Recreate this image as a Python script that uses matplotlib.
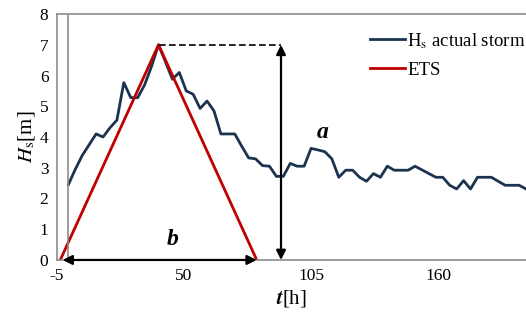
import matplotlib.pyplot as plt

plt.rcParams['font.family'] = ['Liberation Serif', 'DejaVu Serif']
plt.rcParams['mathtext.fontset'] = 'stix'
plt.rcParams['axes.unicode_minus'] = False

# actual storm, 3-hourly significant wave height
t_storm = list(range(0, 201, 3))[:67]
hs_storm = [2.45, 2.95, 3.4, 3.75, 4.1, 4.0, 4.3, 4.55, 5.77, 5.28,
            5.28, 5.7, 6.3, 7.0, 6.45, 5.88, 6.1, 5.5, 5.39, 4.93,
            5.17, 4.85, 4.1, 4.1, 4.1, 3.7, 3.32, 3.29, 3.07, 3.05,
            2.72, 2.72, 3.14, 3.05, 3.05, 3.63, 3.58, 3.52, 3.29, 2.69,
            2.92, 2.92, 2.69, 2.56, 2.81, 2.69, 3.05, 2.92, 2.92, 2.92,
            3.05, 2.93, 2.81, 2.69, 2.69, 2.43, 2.31, 2.58, 2.31, 2.69,
            2.69, 2.69, 2.56, 2.43, 2.43, 2.43, 2.31]

# equivalent triangular storm
t_ets = [-3.5, 39, 81.5]
hs_ets = [0, 7, 0]

a_t = 92  # position of the "a" arrow
xticks = [-5, 50, 105, 160]

fig = plt.figure(figsize=(5.26, 3.27), dpi=100)
ax = fig.add_axes([0.108, 0.205, 0.892, 0.752])

ax.plot(t_storm, hs_storm, color='#1c3350', lw=2, label='H$_\\mathrm{s}$ actual storm')
ax.plot(t_ets, hs_ets, color='#c00000', lw=2, label='ETS')

ax.axvline(0, color='#8c8c8c', lw=1.2)
ax.plot([t_ets[1], a_t], [7, 7], color='black', lw=1.2, ls=(0, (4, 2)))

arrow = dict(arrowstyle='<|-|>', color='black', lw=1.6, mutation_scale=14,
             shrinkA=0, shrinkB=0)
ax.annotate('', xy=(a_t, 7), xytext=(a_t, 0), arrowprops=arrow)
ax.annotate('', xy=(-2.5, 0), xytext=(t_ets[2], 0), arrowprops=arrow)

ax.text(110, 4.15, 'a', fontsize=17, fontweight='bold', style='italic',
        ha='center', va='center')
ax.text(45, 0.65, 'b', fontsize=17, fontweight='bold', style='italic',
        ha='center', va='center')

ax.set_xlim(-5, 198)
ax.set_ylim(0, 8)
ax.set_xticks(xticks)
ax.set_yticks(range(9))
ax.tick_params(length=0, labelsize=12.5, pad=6)

for s in ['left', 'top', 'bottom']:
    ax.spines[s].set_color('#8c8c8c')
    ax.spines[s].set_linewidth(1.2)
ax.spines['right'].set_visible(False)

ax.set_xlabel('$\\boldsymbol{t}$[h]', fontsize=15, labelpad=3)
ax.set_ylabel('$H_\\mathrm{s}$[m]', fontsize=15, labelpad=2)

ax.legend(loc='upper right', bbox_to_anchor=(1.035, 1.0), frameon=False,
          fontsize=13.5, handlelength=1.9, handletextpad=0.1, labelspacing=0.6)

fig.savefig('out.png', dpi=100)
